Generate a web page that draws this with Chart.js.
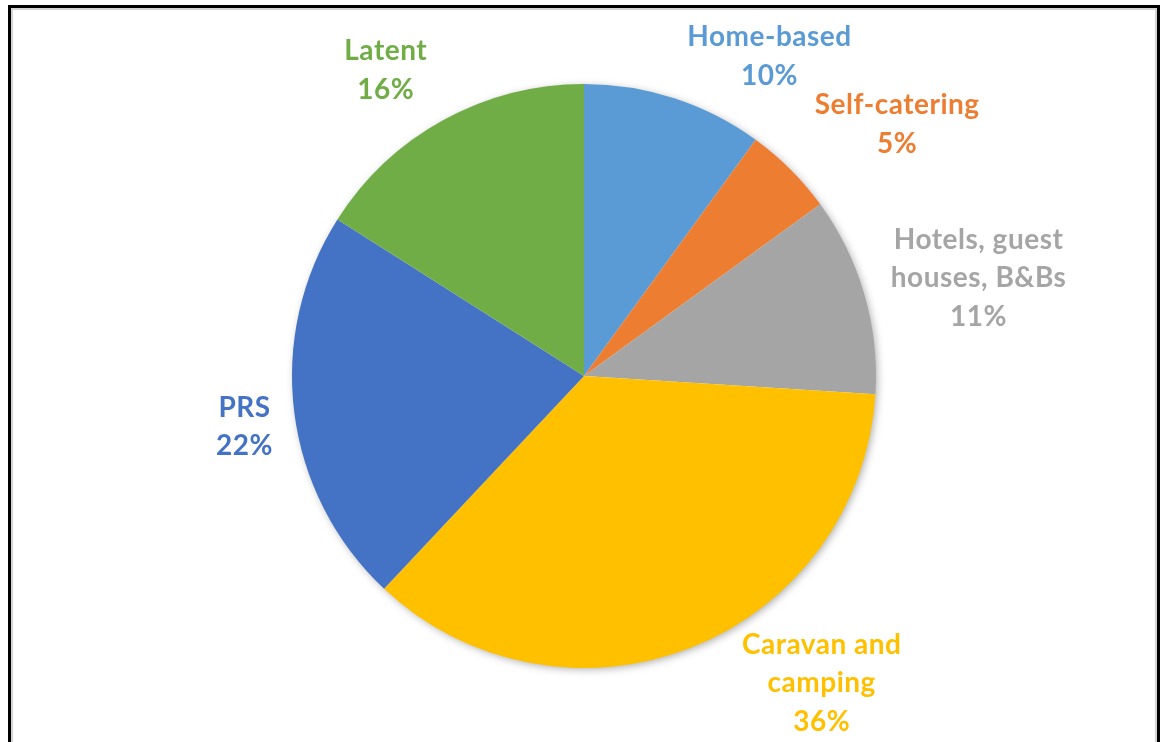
<!DOCTYPE html>
<html lang="en">
<head>
    <meta charset="UTF-8">
    <title>Pie chart</title>
    <script src="https://cdn.jsdelivr.net/npm/chart.js"></script>
    <style>
        body {
            margin: 0;
            padding: 0;
            background: #fff;
            overflow: hidden;
        }

        .frame {
            position: absolute;
            left: 8px;
            top: 5px;
            width: 1146px;
            height: 800px;
            border: 3px solid #000;
            box-shadow: inset 2px 2px 0 #d4d4d4, inset -2px 0 0 #d4d4d4;
        }

        .chart-box {
            position: absolute;
            left: 0;
            top: 0;
            width: 1165px;
            height: 742px;
        }
    </style>
</head>
<body>
    <div class="frame"></div>
    <div class="chart-box">
        <canvas id="pieChart"></canvas>
    </div>

    <script>
        var categories = [
            ['Home-based'],
            ['Self-catering'],
            ['Hotels, guest', 'houses, B&Bs'],
            ['Caravan and', 'camping'],
            ['PRS'],
            ['Latent']
        ];
        var shares = [10, 5, 11, 36, 22, 16];
        var colours = ['#5B9BD5', '#ED7D31', '#A5A5A5', '#FFC000', '#4472C4', '#70AD47'];

        // label placement around the pie: extra distance beyond the rim and angle nudge (deg)
        var labelGap = [79, 111, 115, 95, 51, 74];
        var labelTurn = [12, 6, 2, -16.3, -1, -4];

        var shadowPlugin = {
            id: 'pieShadow',
            beforeDatasetsDraw: function (chart) {
                var arc = chart.getDatasetMeta(0).data[0];
                if (!arc) return;
                var ctx = chart.ctx;
                ctx.save();
                ctx.shadowColor = 'rgba(0,0,0,0.35)';
                ctx.shadowBlur = 8;
                ctx.shadowOffsetX = 2;
                ctx.shadowOffsetY = 2;
                ctx.fillStyle = '#fff';
                ctx.beginPath();
                ctx.arc(arc.x, arc.y, arc.outerRadius - 1, 0, Math.PI * 2);
                ctx.fill();
                ctx.restore();
            }
        };

        var labelPlugin = {
            id: 'outsideLabels',
            afterDatasetsDraw: function (chart) {
                var ctx = chart.ctx;
                var meta = chart.getDatasetMeta(0);
                var total = shares.reduce(function (a, b) { return a + b; }, 0);
                ctx.save();
                ctx.font = 'bold 28px Lato, "Open Sans", sans-serif';
                if ('letterSpacing' in ctx) ctx.letterSpacing = '0.5px';
                ctx.textAlign = 'center';
                ctx.textBaseline = 'middle';
                meta.data.forEach(function (arc, i) {
                    var mid = (arc.startAngle + arc.endAngle) / 2 + labelTurn[i] * Math.PI / 180;
                    var dist = arc.outerRadius + labelGap[i];
                    var cx = arc.x + Math.cos(mid) * dist;
                    var cy = arc.y + Math.sin(mid) * dist + 2;
                    var lines = categories[i].concat([Math.round(shares[i] / total * 100) + '%']);
                    var lh = 38.5;
                    var y0 = cy - (lines.length - 1) * lh / 2;
                    ctx.fillStyle = colours[i];
                    lines.forEach(function (t, k) {
                        ctx.fillText(t, cx, y0 + k * lh);
                    });
                });
                ctx.restore();
            }
        };

        var ctxPie = document.getElementById('pieChart').getContext('2d');
        var pieChart = new Chart(ctxPie, {
            type: 'pie',
            data: {
                labels: categories,
                datasets: [{
                    data: shares,
                    backgroundColor: colours,
                    borderWidth: 0,
                    hoverOffset: 0
                }]
            },
            options: {
                responsive: true,
                maintainAspectRatio: false,
                animation: false,
                events: [],
                radius: 292,
                layout: {
                    padding: { top: 84, bottom: 74, left: 3, right: 0 }
                },
                plugins: {
                    legend: { display: false },
                    tooltip: { enabled: false }
                }
            },
            plugins: [shadowPlugin, labelPlugin]
        });
    </script>
</body>
</html>
